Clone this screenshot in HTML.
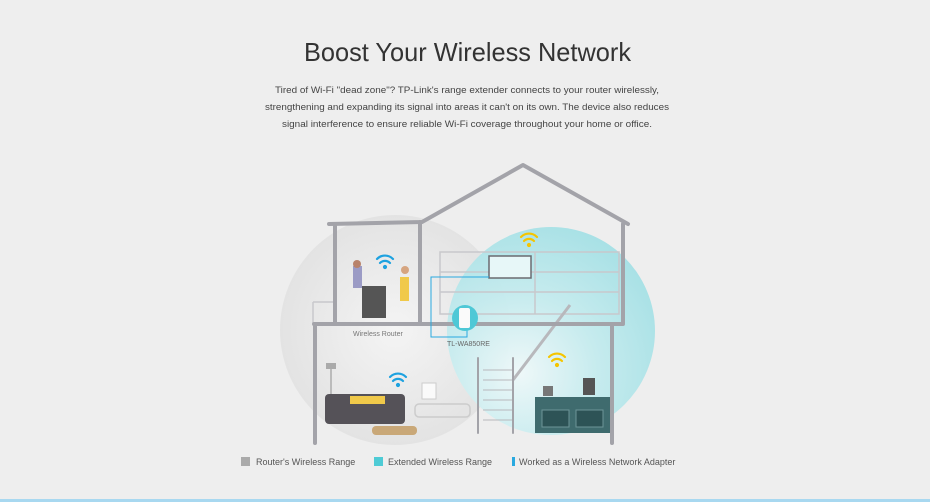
<!DOCTYPE html>
<html><head><meta charset="utf-8"><style>
html,body{margin:0;padding:0;background:#eeeeee;}
svg{display:block}
</style></head><body>
<svg width="930" height="502" viewBox="0 0 930 502" xmlns="http://www.w3.org/2000/svg" font-family="Liberation Sans, sans-serif">
<defs>
<radialGradient id="gc" cx="0.5" cy="0.5" r="0.5">
<stop offset="0" stop-color="#f4f4f4"/><stop offset="1" stop-color="#e3e3e3"/>
</radialGradient>
<radialGradient id="tc" cx="0.35" cy="0.7" r="0.75">
<stop offset="0" stop-color="#eef8f9"/><stop offset="0.5" stop-color="#c4ebee"/><stop offset="1" stop-color="#a4e0e5"/>
</radialGradient>
</defs>
<rect width="930" height="502" fill="#eeeeee"/>
<rect x="0" y="499" width="930" height="3" fill="#a8d8f0"/>
<text x="467.5" y="61" font-size="26" fill="#333" text-anchor="middle" textLength="327" lengthAdjust="spacingAndGlyphs">Boost Your Wireless Network</text>
<g font-size="9.6" fill="#444" text-anchor="middle">
<text x="467" y="93" textLength="384" lengthAdjust="spacingAndGlyphs">Tired of Wi-Fi "dead zone"? TP-Link's range extender connects to your router wirelessly,</text>
<text x="467" y="110" textLength="404" lengthAdjust="spacingAndGlyphs">strengthening and expanding its signal into areas it can't on its own. The device also reduces</text>
<text x="467" y="127" textLength="370" lengthAdjust="spacingAndGlyphs">signal interference to ensure reliable Wi-Fi coverage throughout your home or office.</text>
</g>
<!-- range circles -->
<circle cx="395" cy="330" r="115" fill="url(#gc)"/>
<circle cx="551" cy="331" r="104" fill="url(#tc)" opacity="0.95"/>
<!-- furniture (simplified) -->
<g fill="none" stroke="#c8c8cc" stroke-width="1.5">
<rect x="440" y="252" width="179" height="62"/>
<line x1="440" y1="272" x2="619" y2="272"/><line x1="440" y1="292" x2="619" y2="292"/>
<line x1="535" y1="252" x2="535" y2="314"/>
<line x1="313" y1="302" x2="335" y2="302"/>
<line x1="313" y1="302" x2="313" y2="323"/>
<line x1="513" y1="380" x2="570" y2="305" stroke="#b8b8bc" stroke-width="3"/>
</g>
<rect x="489" y="256" width="42" height="22" fill="#e7f7f8" stroke="#6a6a70" stroke-width="1.5"/>
<!-- people upstairs -->
<rect x="362" y="286" width="24" height="32" fill="#555" />
<rect x="353" y="266" width="9" height="22" fill="#9b9bc5"/>
<circle cx="357" cy="264" r="4" fill="#b8826a"/>
<rect x="400" y="277" width="9" height="24" fill="#f0c94a"/>
<circle cx="405" cy="270" r="4" fill="#d6a580"/>
<!-- lower living -->
<rect x="325" y="394" width="80" height="30" rx="4" fill="#555258"/>
<rect x="350" y="396" width="35" height="8" fill="#f0c94a"/>
<rect x="415" y="404" width="55" height="13" rx="4" fill="none" stroke="#ccc" stroke-width="1.5"/>
<rect x="422" y="383" width="14" height="16" fill="#fafafa" stroke="#ccc"/>
<rect x="372" y="426" width="45" height="9" rx="4" fill="#c9a878"/>
<rect x="326" y="363" width="10" height="6" fill="#aaa"/>
<line x1="331" y1="369" x2="331" y2="394" stroke="#bbb" stroke-width="2"/>
<!-- kitchen -->
<rect x="535" y="397" width="75" height="36" fill="#3f6b6e"/>
<rect x="542" y="410" width="27" height="17" fill="#2d5356" stroke="#6d9598"/>
<rect x="576" y="410" width="27" height="17" fill="#2d5356" stroke="#6d9598"/>
<rect x="543" y="386" width="10" height="10" fill="#777"/>
<rect x="583" y="378" width="12" height="17" fill="#555"/>
<!-- stairs posts -->
<g stroke="#b8b8bc" stroke-width="1">
<line x1="483" y1="370" x2="513" y2="370"/><line x1="483" y1="380" x2="513" y2="380"/><line x1="483" y1="390" x2="513" y2="390"/><line x1="483" y1="400" x2="513" y2="400"/><line x1="483" y1="410" x2="513" y2="410"/><line x1="483" y1="420" x2="513" y2="420"/>
</g>
<!-- house structure -->
<g stroke="#a3a3a9" stroke-width="4" fill="none" stroke-linecap="round" stroke-linejoin="round">
<polyline points="329,224 422,222 523,165 628,224"/>
<line x1="335" y1="224" x2="335" y2="323"/>
<line x1="420" y1="222" x2="420" y2="323"/>
<line x1="623" y1="224" x2="623" y2="323"/>
<line x1="314" y1="324" x2="623" y2="324"/>
<line x1="315" y1="324" x2="315" y2="443"/>
<line x1="612" y1="324" x2="612" y2="443"/>
<line x1="478" y1="358" x2="478" y2="433" stroke-width="2"/>
<line x1="513" y1="358" x2="513" y2="433" stroke-width="2"/>
</g>
<!-- adapter connector -->
<polyline points="489,277 431,277 431,337 467,337 467,330" fill="none" stroke="#29a9e0" stroke-width="1"/>
<circle cx="465" cy="318" r="13" fill="#4ec8d6"/>
<rect x="459" y="308" width="11" height="20" rx="2" fill="#fafafa"/>
<text x="353" y="336" font-size="7" fill="#777">Wireless Router</text>
<text x="447" y="346" font-size="7" fill="#666">TL-WA850RE</text>
<!-- wifi icons -->
<g fill="none" stroke-width="2.2" stroke-linecap="round">
<g stroke="#1ea2e0"><path d="M377 259 a11 11 0 0 1 16 0"/><path d="M380 263 a7 7 0 0 1 10 0"/><circle cx="385" cy="267" r="1" fill="#1ea2e0"/></g>
<g stroke="#1ea2e0"><path d="M390 377 a11 11 0 0 1 16 0"/><path d="M393 381 a7 7 0 0 1 10 0"/><circle cx="398" cy="385" r="1" fill="#1ea2e0"/></g>
<g stroke="#f5c500"><path d="M521 237 a11 11 0 0 1 16 0"/><path d="M524 241 a7 7 0 0 1 10 0"/><circle cx="529" cy="245" r="1" fill="#f5c500"/></g>
<g stroke="#f5c500"><path d="M549 357 a11 11 0 0 1 16 0"/><path d="M552 361 a7 7 0 0 1 10 0"/><circle cx="557" cy="365" r="1" fill="#f5c500"/></g>
</g>
<!-- legend -->
<rect x="241" y="457" width="9" height="9" fill="#aaaaaa"/>
<text x="256" y="465" font-size="9" fill="#555">Router's Wireless Range</text>
<rect x="374" y="457" width="9" height="9" fill="#4ecbd5"/>
<text x="388" y="465" font-size="9" fill="#555">Extended Wireless Range</text>
<rect x="512" y="457" width="3" height="9" fill="#29a9e0"/>
<text x="519" y="465" font-size="9" fill="#555">Worked as a Wireless Network Adapter</text>
</svg>
</body></html>
